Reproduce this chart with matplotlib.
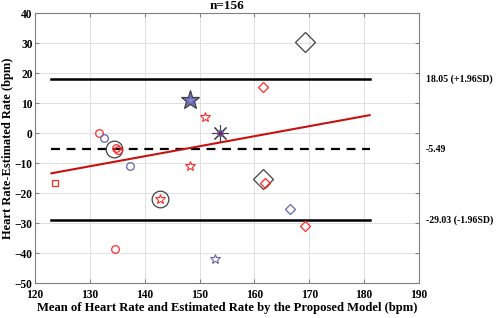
import matplotlib
matplotlib.use("Agg")
import matplotlib.pyplot as plt
import numpy as np

# ---- data ----
red_circle_x = [131.7, 134.6, 134.8, 135.2]
red_circle_y = [0.0, -38.5, -5.0, -5.6]
blue_circle_x = [132.5, 137.3]
blue_circle_y = [-1.5, -11.0]
black_circle_x = [134.4, 142.8]
black_circle_y = [-5.3, -22.0]
red_square_x = [123.6]
red_square_y = [-16.5]
red_star_x = [148.3, 151.0, 142.8]
red_star_y = [-11.0, 5.5, -22.0]
blue_star_x = [152.8]
blue_star_y = [-42.0]
blue_filled_star_x = [148.3]
blue_filled_star_y = [11.0]
asterisk_x = [153.8]
asterisk_y = [0.0]
red_diamond_x = [161.6, 162.0, 169.2]
red_diamond_y = [15.4, -16.8, -31.0]
blue_diamond_x = [166.5]
blue_diamond_y = [-25.4]
black_diamond_x = [169.2, 161.6]
black_diamond_y = [30.5, -15.4]

mean_diff = -5.49
upper_loa = 18.05
lower_loa = -29.03
line_x_range = [123.0, 181.0]
reg_slope = 0.334
reg_intercept = -54.5

x_ticks = [120, 130, 140, 150, 160, 170, 180, 190]
y_ticks = [-50, -40, -30, -20, -10, 0, 10, 20, 30, 40]

plt.rcParams['font.family'] = ['Liberation Serif', 'DejaVu Serif']
plt.rcParams['font.weight'] = 'bold'

fig = plt.figure(figsize=(4.98, 3.18), dpi=100)
ax = fig.add_axes([0.0703, 0.110, 0.771, 0.849])

RED = '#ff2a2a'
BLUE = '#6464b4'
BLK = '#404040'

ax.plot(line_x_range, [upper_loa] * 2, color='black', lw=1.8, zorder=2)
ax.plot(line_x_range, [lower_loa] * 2, color='black', lw=1.8, zorder=2)
ax.plot(line_x_range, [mean_diff] * 2, color='black', lw=1.6, ls=(0, (4, 3)), zorder=2)
rx = np.array(line_x_range)
ax.plot(rx, reg_slope * rx + reg_intercept, color='#c81010', lw=1.5, zorder=3)

ms = 5.5
ax.plot(black_circle_x, black_circle_y, 'o', mfc='none', mec=BLK, ms=12, mew=0.9, zorder=4)
ax.plot(blue_filled_star_x, blue_filled_star_y, '*', mfc='#8c8cc8', mec=BLK, ms=14, mew=0.9, zorder=4)
ax.plot(blue_filled_star_x, blue_filled_star_y, '*', mfc='none', mec=BLUE, ms=9, mew=0.8, zorder=5)
ax.plot(black_diamond_x, black_diamond_y, 'D', mfc='none', mec=BLK, ms=10.5, mew=0.9, zorder=4)
ax.plot(red_circle_x, red_circle_y, 'o', mfc='none', mec=RED, ms=ms, mew=0.9, zorder=5)
ax.plot(blue_circle_x, blue_circle_y, 'o', mfc='none', mec=BLUE, ms=ms, mew=0.9, zorder=5)
ax.plot(red_square_x, red_square_y, 's', mfc='none', mec=RED, ms=5, mew=0.9, zorder=5)
ax.plot(red_star_x, red_star_y, '*', mfc='none', mec=RED, ms=7, mew=0.8, zorder=5)
ax.plot(blue_star_x, blue_star_y, '*', mfc='none', mec=BLUE, ms=7, mew=0.8, zorder=5)
ax.plot(red_diamond_x, red_diamond_y, 'D', mfc='none', mec=RED, ms=5, mew=0.9, zorder=5)
ax.plot(blue_diamond_x, blue_diamond_y, 'D', mfc='none', mec=BLUE, ms=5, mew=0.9, zorder=5)
ax.plot(asterisk_x, asterisk_y, marker=(8, 2, 0), color=BLK, ms=12, mew=0.8, zorder=5)
ax.plot(asterisk_x, asterisk_y, 'o', mfc='#802040', mec=BLUE, ms=4, zorder=6)

ax.set_xlim(120, 190)
ax.set_ylim(-50, 40)
ax.set_xticks(x_ticks)
ax.set_yticks(y_ticks)
ax.grid(True, color='#e0e0e0', lw=0.7)
ax.set_axisbelow(True)
for s in ax.spines.values():
    s.set_color('#808080')
    s.set_linewidth(0.8)
ax.tick_params(labelsize=8.3, length=3, color='#808080', direction='in', top=True, right=True)
ax.tick_params(axis='y', pad=1.8)
ax.tick_params(axis='x', pad=4)
for lab in ax.get_xticklabels() + ax.get_yticklabels():
    lab.set_fontweight('bold')

ax.set_xlabel('Mean of Heart Rate and Estimated Rate by the Proposed Model (bpm)',
              fontsize=9.1, fontweight='bold', labelpad=1)
ax.set_ylabel('Heart Rate-Estimated Rate (bpm)', fontsize=9, fontweight='bold')
ax.yaxis.set_label_coords(-0.056, 0.5)
ax.set_title('n=156', fontsize=9.5, fontweight='bold', pad=3)

for val, txt in [(upper_loa, f'{upper_loa:.2f} (+1.96SD)'),
                 (mean_diff, f'{mean_diff:.2f}'),
                 (lower_loa, f'{lower_loa:.2f} (-1.96SD)')]:
    ax.annotate(txt, xy=(1.0, val), xycoords=('axes fraction', 'data'),
                xytext=(5, 0), textcoords='offset points', va='center', ha='left',
                fontsize=7.1, fontweight='bold')

fig.savefig('out.png', dpi=100)
